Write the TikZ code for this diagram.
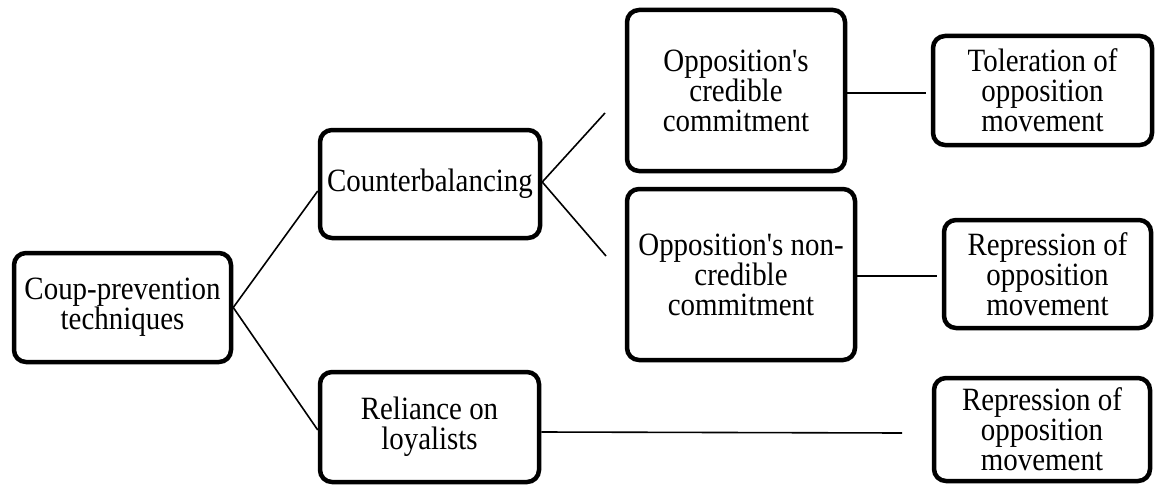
\documentclass[tikz,border=0pt]{standalone}
\usepackage{fontspec}
\newfontfamily\boxfont{Liberation Serif}[FakeStretch=0.89]
\begin{document}
\begin{tikzpicture}[x=1pt,y=-1pt,
  box/.style={draw=black, line width=4.5pt, rounded corners=12pt, fill=white,
    align=center, inner sep=0pt, font=\boxfont\fontsize{32.5}{30}\selectfont},
  link/.style={draw=black, line width=1.6pt}]
\useasboundingbox (0,0) rectangle (1156,487);
\node[box, minimum width=217pt, minimum height=109pt] (b1) at (122.5,307.5) {Coup-prevention\\techniques};
\node[box, minimum width=220pt, minimum height=108pt] (b2) at (430,184) {Counterbalancing};
\node[box, minimum width=218pt, minimum height=161pt] (b3) at (736,90.5) {Opposition's\\credible\\commitment};
\node[box, minimum width=228pt, minimum height=171pt] (b4) at (741,274.5) {Opposition's non-\\credible\\commitment};
\node[box, minimum width=219pt, minimum height=109pt] (b5) at (1042.5,90.5) {Toleration of\\opposition\\movement};
\node[box, minimum width=207pt, minimum height=108pt] (b6) at (1047.5,274) {Repression of\\opposition\\movement};
\node[box, minimum width=219pt, minimum height=110pt] (b7) at (429.5,427) {Reliance on\\loyalists};
\node[box, minimum width=216pt, minimum height=103pt] (b8) at (1042,429.5) {Repression of\\opposition\\movement};
\coordinate (e3) at (605,113);
\coordinate (e4) at (606,256);
\coordinate (e5) at (926,93);
\coordinate (e6) at (937,276);
\coordinate (e8) at (902,433);
\draw[link] (b1.east) -- ([yshift=-7pt]b2.west);
\draw[link] (b1.east) -- ([yshift=-3pt]b7.west);
\draw[link] ([yshift=2pt]b2.east) -- (e3);
\draw[link] ([yshift=2pt]b2.east) -- (e4);
\draw[link] ([yshift=-2.5pt]b3.east) -- (e5);
\draw[link] ([yshift=-1.5pt]b4.east) -- (e6);
\draw[link] ([yshift=-5pt]b7.east) -- (e8);
\end{tikzpicture}
\end{document}
